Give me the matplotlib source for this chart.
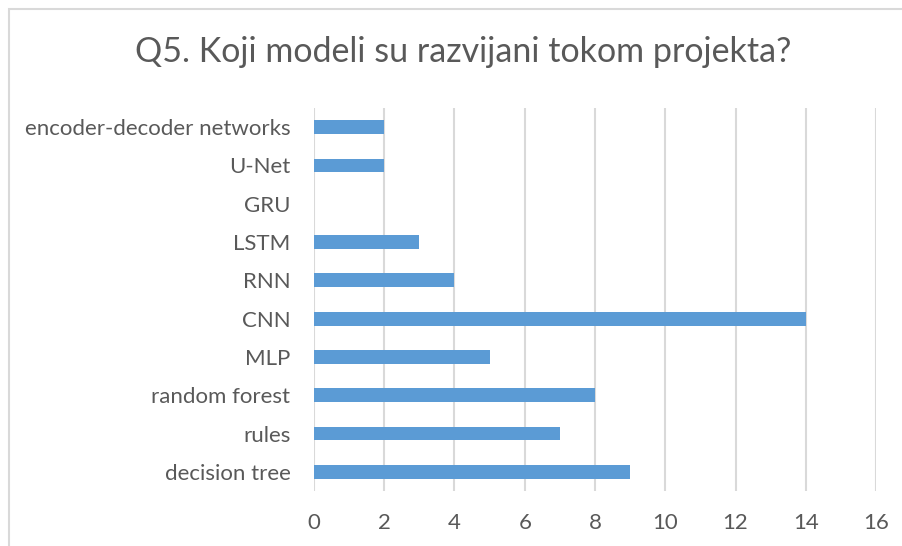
# Q5 survey chart: which models were developed during the project

import matplotlib.pyplot as plt
from matplotlib.patches import Rectangle

# Data (bottom to top, as drawn)
categories = ["decision tree", "rules", "random forest", "MLP", "CNN",
              "RNN", "LSTM", "GRU", "U-Net", "encoder-decoder networks"]
counts = [9, 7, 8, 5, 14, 4, 3, 0, 2, 2]
x_ticks = [0, 2, 4, 6, 8, 10, 12, 14, 16]

txt_color = "#595959"
plt.rcParams['font.family'] = ['Lato', 'DejaVu Sans']

fig = plt.figure(figsize=(9.03, 5.46), dpi=100)
# chart border, cropped at right and bottom like the screenshot
fig.patches.append(Rectangle((9 / 903, -0.1), 1.0, (546 - 9) / 546 + 0.1,
                             transform=fig.transFigure, fill=False,
                             edgecolor="#D9D9D9", linewidth=1.5))

ax = fig.add_axes([314 / 903, 1 - 491 / 546, (876 - 314) / 903, (491 - 108) / 546])
y = range(len(categories))
ax.barh(y, counts, height=0.36, color="#5B9BD5", zorder=3)

ax.set_xlim(0, 16)
ax.set_ylim(-0.5, len(categories) - 0.5)
ax.set_xticks(x_ticks)
ax.set_yticks(list(y))
ax.set_yticklabels(categories)
ax.xaxis.grid(True, color="#D9D9D9", linewidth=1.5, zorder=0)
for s in ax.spines.values():
  s.set_visible(False)
ax.tick_params(axis="both", length=0, labelsize=16, labelcolor=txt_color)
ax.tick_params(axis="x", pad=16)
ax.tick_params(axis="y", pad=17)

fig.text(463 / 903, 1 - 52 / 546, "Q5. Koji modeli su razvijani tokom projekta?",
         ha="center", va="center", fontsize=24.5, color=txt_color)

fig.savefig("out.png", dpi=100)
